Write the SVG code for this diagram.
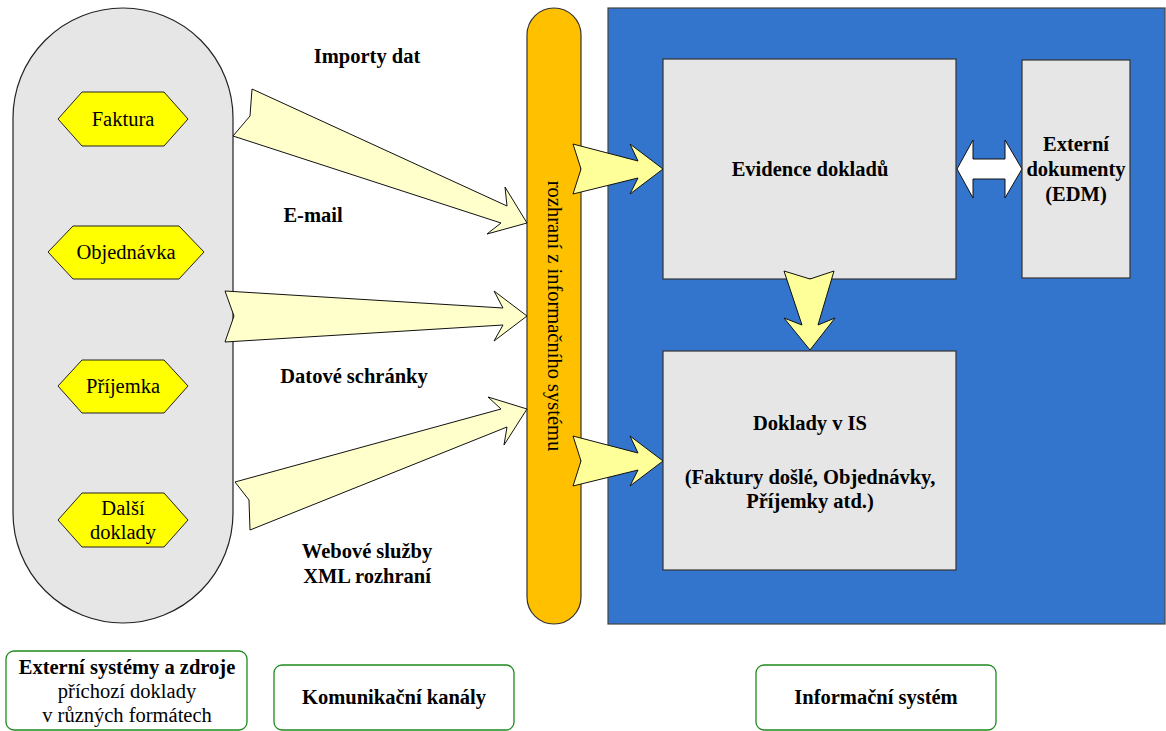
<svg xmlns="http://www.w3.org/2000/svg" width="1166" height="731" viewBox="0 0 1166 731" font-family="'Liberation Serif', 'DejaVu Serif', 'Times New Roman', serif">
  <style>
    .t { font-family: 'Liberation Serif', 'DejaVu Serif', 'Times New Roman', serif; font-size: 20.5px; fill: #000; text-anchor: middle; }
    .b { font-weight: bold; }
    .hex { fill: #FFFF00; stroke: #222; stroke-width: 1; stroke-linejoin: round; }
    .pane { fill: #E6E6E6; stroke: #333; stroke-width: 1.2; }
    .flowIn { fill: #FFFFCC; stroke: #111; stroke-width: 1; stroke-linejoin: miter; }
    .flowIs { fill: #FFFF99; stroke: #111; stroke-width: 1; stroke-linejoin: miter; }
    .legend { fill: #FFFFFF; stroke: #1E8A1E; stroke-width: 1.3; }
  </style>

  <!-- External systems column -->
  <g id="external-sources">
    <rect x="13" y="8" width="220" height="615" rx="110" ry="110" fill="#E6E6E6" stroke="#222" stroke-width="1.2"/>
  </g>

  <g id="doc-faktura">
    <polygon class="hex" points="58,119 82,92 164,92 188,119 164,146 82,146"/>
    <text class="t" x="123" y="126">Faktura</text>
  </g>
  <g id="doc-objednavka">
    <polygon class="hex" points="48,252 73,226 179,226 204,252 179,279 73,279"/>
    <text class="t" x="126" y="259">Objednávka</text>
  </g>
  <g id="doc-prijemka">
    <polygon class="hex" points="58,386 82,360 164,360 188,386 164,413 82,413"/>
    <text class="t" x="123" y="393">Příjemka</text>
  </g>
  <g id="doc-dalsi">
    <polygon class="hex" points="58,520 82,493 164,493 188,520 164,547 82,547"/>
    <text class="t" x="123" y="515">Další</text>
    <text class="t" x="123" y="539">doklady</text>
  </g>

  <!-- Interface bar -->
  <g id="is-interface">
    <rect x="527" y="8" width="54" height="616" rx="27" ry="27" fill="#FFC000" stroke="#333" stroke-width="1.2"/>
    <text class="t" transform="translate(548,316) rotate(90)" x="0" y="0">rozhraní z informačního systému</text>
  </g>

  <!-- Information system area -->
  <g id="information-system">
    <rect x="608" y="8" width="557" height="616" fill="#3375CC" stroke="#444" stroke-width="1.2"/>
  </g>
  <g id="evidence">
    <rect class="pane" x="663" y="59" width="293" height="220"/>
    <text class="t b" x="810" y="176">Evidence dokladů</text>
  </g>
  <g id="doklady-is">
    <rect class="pane" x="663" y="351" width="293" height="219"/>
    <text class="t b" x="810" y="430">Doklady v IS</text>
    <text class="t b" x="810" y="484">(Faktury došlé, Objednávky,</text>
    <text class="t b" x="810" y="508">Příjemky atd.)</text>
  </g>
  <g id="edm">
    <rect class="pane" x="1022" y="60" width="108" height="218"/>
    <text class="t b" x="1076" y="151">Externí</text>
    <text class="t b" x="1076" y="176">dokumenty</text>
    <text class="t b" x="1076" y="201">(EDM)</text>
  </g>

  <!-- Channel labels -->
  <g id="channel-labels">
    <text class="t b" x="367" y="63">Importy dat</text>
    <text class="t b" x="313" y="222">E-mail</text>
    <text class="t b" x="354" y="383">Datové schránky</text>
    <text class="t b" x="367" y="558">Webové služby</text>
    <text class="t b" x="367" y="583">XML rozhraní</text>
  </g>

  <!-- Connectors -->
  <g id="connectors">
    <polygon class="flowIn" points="252,89 507,206 505,187 527,223 487,234 501,223 233,136 250,116"/>
    <polygon class="flowIn" points="225,291 503,308 494,291 527,316 494,341 503,325 225,342 234,316"/>
    <polygon class="flowIn" points="235,482 501,409 488,397 527,409 504,445 507,427 250,530 249,500"/>
    <polygon class="flowIs" points="573,144 638,161 630,144 663,169 630,194 638,178 573,194 581,169"/>
    <polygon class="flowIs" points="573,436 638,453 630,436 663,461 630,486 638,470 573,486 581,461"/>
    <polygon class="flowIs" points="784,271 810,279 834,271 818,325 835,318 810,350 784,318 802,325"/>
    <polygon points="957,169 973,140 973,159 1005,159 1005,140 1022,169 1005,198 1005,179 973,179 973,198" fill="#FFFFFF" stroke="#111" stroke-width="1"/>
  </g>

  <!-- Legend -->
  <g id="legend-sources">
    <rect class="legend" x="6" y="651" width="241" height="79" rx="8" ry="8"/>
    <text class="t b" x="127" y="674">Externí systémy a zdroje</text>
    <text class="t" x="127" y="698">příchozí doklady</text>
    <text class="t" x="127" y="722">v různých formátech</text>
  </g>
  <g id="legend-channels">
    <rect class="legend" x="274" y="665" width="240" height="65" rx="8" ry="8"/>
    <text class="t b" x="394" y="704">Komunikační kanály</text>
  </g>
  <g id="legend-is">
    <rect class="legend" x="756" y="665" width="240" height="65" rx="8" ry="8"/>
    <text class="t b" x="876" y="704">Informační systém</text>
  </g>
</svg>
